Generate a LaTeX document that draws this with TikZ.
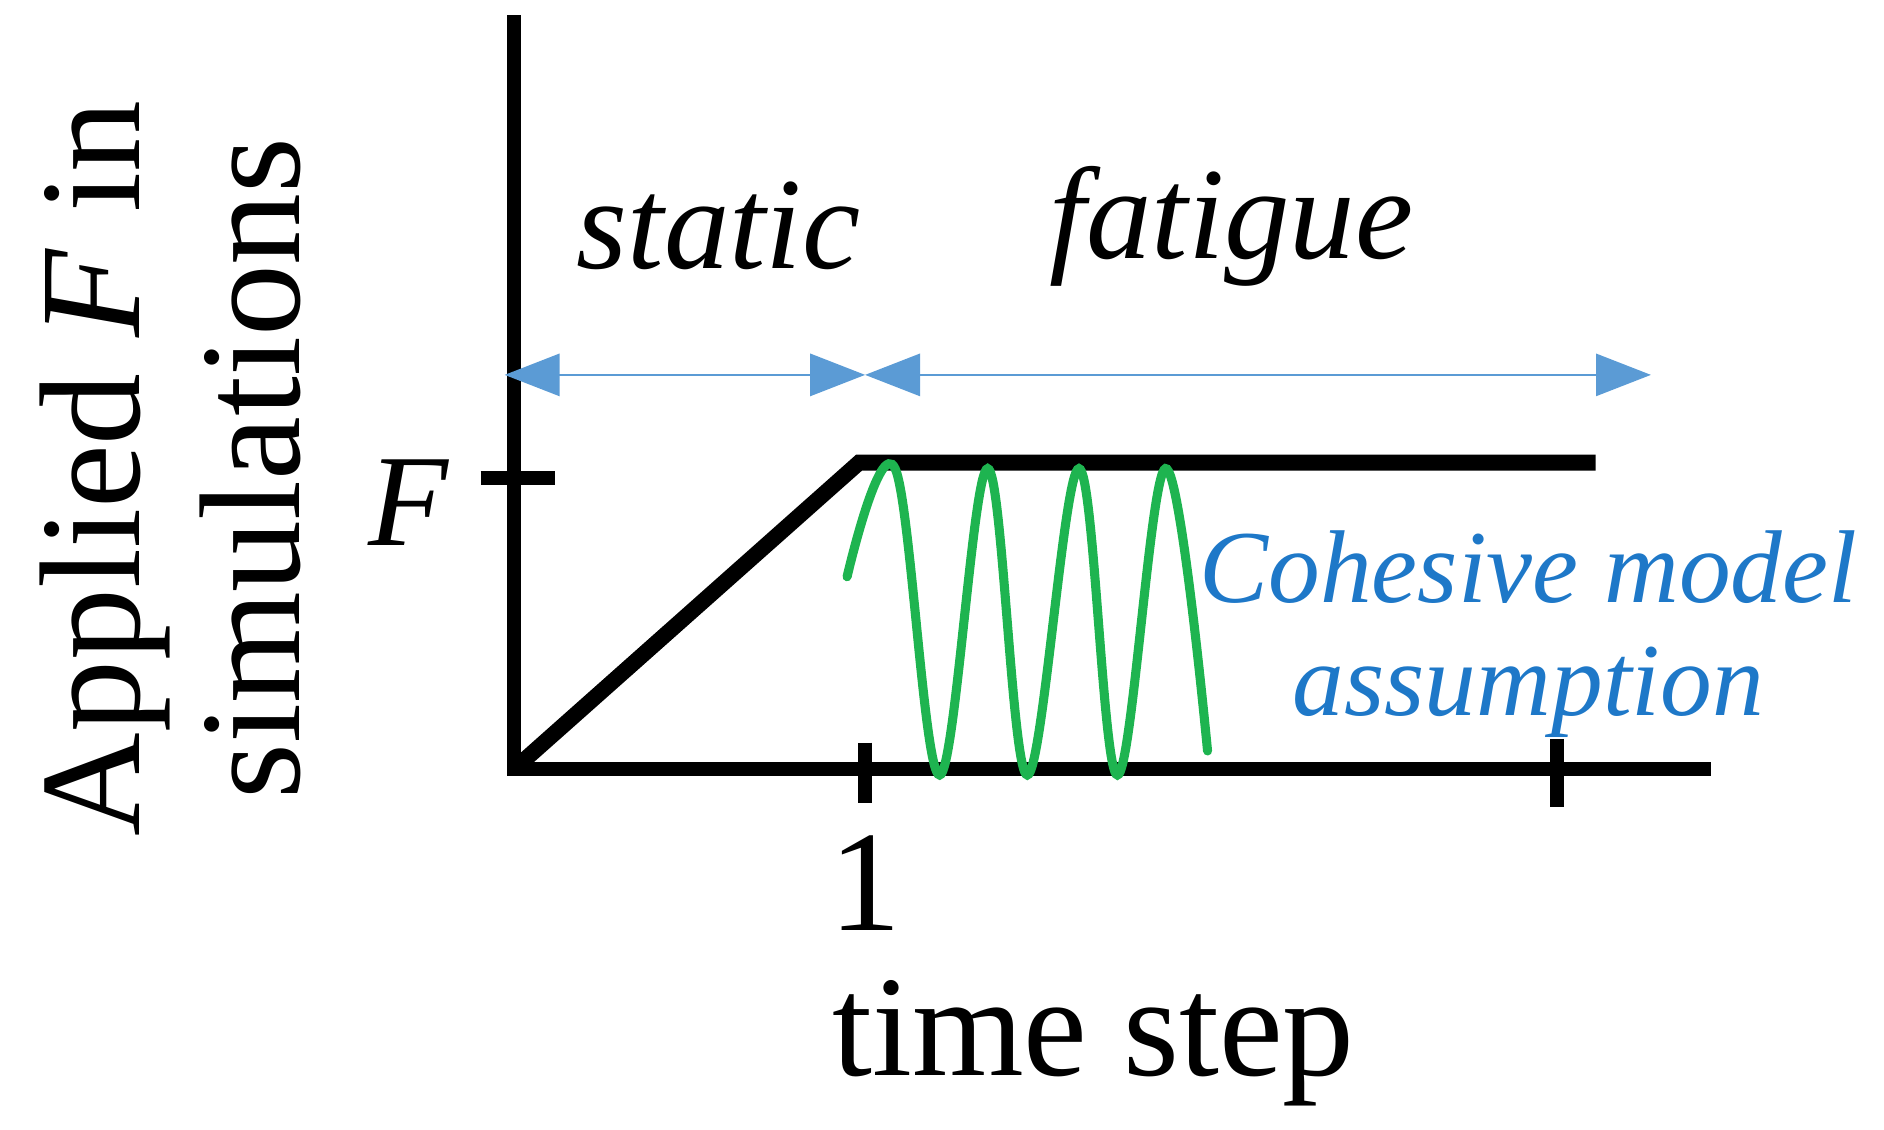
\documentclass[tikz,border=0pt]{standalone}
\usepackage{fontspec}
\setmainfont{Liberation Serif}
\usetikzlibrary{arrows.meta}
\definecolor{ablue}{RGB}{91,155,213}
\definecolor{tblue}{RGB}{30,120,200}
\definecolor{sgreen}{RGB}{30,180,80}
\begin{document}
\begin{tikzpicture}[x=0.02cm,y=-0.02cm,
  ax/.style={line width=6.5pt,black},
  arr/.style={ablue,line width=1pt,{Triangle[length=26pt,width=20pt]}-{Triangle[length=26pt,width=20pt]}},
  lab/.style={font=\fontsize{68}{76}\selectfont},
  ilab/.style={font=\fontsize{62}{68}\selectfont\itshape},
  blab/.style={font=\fontsize{49}{55}\selectfont\itshape,text=tblue}]
\useasboundingbox (0,0) rectangle (1568,940);
\coordinate (o) at (428,640);
\coordinate (ytop) at (428,18);
\coordinate (xend) at (1418,640);
\draw[ax,line cap=rect] (ytop) -- (o) -- (xend);
\draw[ax] (720,618) -- (720,668);
\draw[ax] (1296,615) -- (1296,672);
\draw[ax] (400,398) -- (462,398);
\coordinate (knee) at (715,385);
\coordinate (fend) at (1328,385);
\draw[ax,line width=7.5pt] (o) -- (knee) -- (fend);
\coordinate (a1) at (420,312);
\coordinate (a2) at (720,312);
\coordinate (a3) at (1374,312);
\draw[arr] (a1) -- (a2);
\draw[arr] (a2) -- (a3);
\draw[sgreen,line width=4.3pt,line cap=round] plot[smooth,tension=0.6] coordinates
 {(705,480) (745,390) (782,645) (822,390) (855,645) (898,390) (930,645) (970,390) (1005,625)};
\node[ilab] (st) at (598,188) {static};
\node[ilab] (fa) at (1025,188) {fatigue};
\node[ilab] (F) at (340,418) {F};
\node[lab] (one) at (720,735) {1};
\node[lab] (ts) at (910,868) {time step};
\node[lab,rotate=90,align=center] (yl) at (142,390) {Applied \textit{F} in\\simulations};
\node[blab] (c1) at (1272,472) {Cohesive model};
\node[blab] (c2) at (1272,576) {assumption};
\end{tikzpicture}
\end{document}
